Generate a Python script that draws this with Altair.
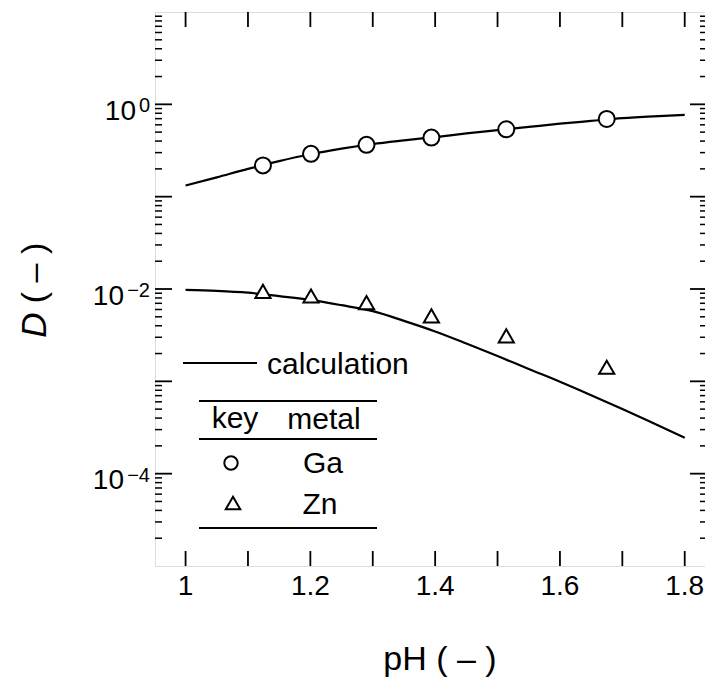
import altair as alt
import pandas as pd

# ---------------- data ----------------
meas_ph = [1.124, 1.201, 1.290, 1.394, 1.514, 1.675]
ga_d = [0.218, 0.291, 0.364, 0.436, 0.537, 0.694]
zn_d = [0.00944, 0.00841, 0.00713, 0.00511, 0.00311, 0.00142]

calc_ph = [1.00, 1.05, 1.10, 1.15, 1.20, 1.25, 1.30, 1.35, 1.40,
           1.45, 1.50, 1.55, 1.60, 1.65, 1.70, 1.75, 1.80]
calc_ga = [0.132, 0.162, 0.200, 0.243, 0.288, 0.331, 0.372, 0.407, 0.442,
           0.484, 0.525, 0.569, 0.617, 0.661, 0.708, 0.741, 0.767]
calc_zn = [0.00977, 0.00955, 0.00912, 0.00836, 0.00762, 0.00668, 0.00575,
           0.00452, 0.00347, 0.00257, 0.00188, 0.00136, 0.00099, 0.000708,
           0.000501, 0.000351, 0.000245]

# axis ticks / labels
x_ticks = [1.0, 1.1, 1.2, 1.3, 1.4, 1.5, 1.6, 1.7, 1.8]
x_label_vals = [1.0, 1.2, 1.4, 1.6, 1.8]
x_label_text = ["1", "1.2", "1.4", "1.6", "1.8"]
y_major = [1e-4, 1e-3, 1e-2, 1e-1, 1e0]
y_minor = [k * 10.0 ** d for d in range(-5, 1) for k in range(2, 10)]
y_label_vals = [1.0, 1e-2, 1e-4]
y_label_exp = ["0", "\u22122", "\u22124"]

# ---------------- layout ----------------
W, H = 550, 554
FONT = "Liberation Sans"

xs = alt.Scale(domain=[0.951, 1.8325], nice=False, zero=False)
ys = alt.Scale(type="log", domain=[1e-5, 10], nice=False)

meas = pd.DataFrame({"ph": meas_ph, "ga": ga_d, "zn": zn_d})
calc = pd.DataFrame({"ph": calc_ph, "ga": calc_ga, "zn": calc_zn})
one = alt.Data(values=[{"a": 1}])

X = lambda f: alt.X(f, type="quantitative", scale=xs, axis=None)
Y = lambda f: alt.Y(f, type="quantitative", scale=ys, axis=None)

layers = []

# calculation curves
for col in ["ga", "zn"]:
    layers.append(alt.Chart(calc).mark_line(color="black", strokeWidth=2.2,
                                            interpolate="monotone")
                  .encode(x=X("ph"), y=Y(col)))

# measured points
layers.append(alt.Chart(meas).mark_point(shape="circle", filled=True, fill="white",
                                         stroke="black", strokeWidth=2, size=256,
                                         opacity=1, fillOpacity=1)
              .encode(x=X("ph"), y=Y("ga")))
layers.append(alt.Chart(meas).mark_point(shape="triangle-up", filled=True, fill="white",
                                         stroke="black", strokeWidth=2, size=230,
                                         opacity=1, fillOpacity=1)
              .encode(x=X("ph"), y=Y("zn")))

# ticks (inward)
xt = pd.DataFrame({"v": x_ticks})
layers.append(alt.Chart(xt).mark_rule(color="black", strokeWidth=1.8)
              .encode(x=X("v"), y=alt.value(H), y2=alt.value(H - 15)))
layers.append(alt.Chart(xt).mark_rule(color="black", strokeWidth=1.8)
              .encode(x=X("v"), y=alt.value(0), y2=alt.value(15)))
ymaj = pd.DataFrame({"v": y_major})
ymin = pd.DataFrame({"v": y_minor})
layers.append(alt.Chart(ymaj).mark_rule(color="black", strokeWidth=1.8)
              .encode(y=Y("v"), x=alt.value(0), x2=alt.value(17)))
layers.append(alt.Chart(ymin).mark_rule(color="black", strokeWidth=1.5)
              .encode(y=Y("v"), x=alt.value(0), x2=alt.value(7)))
layers.append(alt.Chart(ymaj).mark_rule(color="black", strokeWidth=1.8)
              .encode(y=Y("v"), x=alt.value(W), x2=alt.value(W - 15)))
layers.append(alt.Chart(ymin).mark_rule(color="black", strokeWidth=1.5)
              .encode(y=Y("v"), x=alt.value(W), x2=alt.value(W - 5)))

# x tick labels
xl = pd.DataFrame({"v": x_label_vals, "t": x_label_text})
layers.append(alt.Chart(xl).mark_text(font=FONT, fontSize=28, align="center",
                                      baseline="alphabetic", color="black")
              .encode(x=X("v"), y=alt.value(H + 29), text="t:N"))

# y tick labels: base "10" and superscript exponent
yl = pd.DataFrame({"v": y_label_vals, "e": y_label_exp})
layers.append(alt.Chart(yl).mark_text(font=FONT, fontSize=20, align="right",
                                      baseline="alphabetic", dy=8, color="black")
              .encode(y=Y("v"), x=alt.value(-5), text="e:N"))
layers.append(alt.Chart(yl).transform_filter("length(datum.e) == 1")
              .mark_text(font=FONT, fontSize=28, align="right", baseline="alphabetic",
                         dy=15.5, color="black", text="10")
              .encode(y=Y("v"), x=alt.value(-19)))
layers.append(alt.Chart(yl).transform_filter("length(datum.e) > 1")
              .mark_text(font=FONT, fontSize=28, align="right", baseline="alphabetic",
                         dy=15.5, color="black", text="10")
              .encode(y=Y("v"), x=alt.value(-31)))

# axis titles
layers.append(alt.Chart(one).mark_text(font=FONT, fontSize=34, align="center",
                                       baseline="alphabetic", color="black",
                                       text="pH ( \u2013 )")
              .encode(x=alt.value(285), y=alt.value(H + 104)))
layers.append(alt.Chart(one).mark_text(font=FONT, fontSize=35, fontStyle="italic",
                                       align="center", baseline="middle", angle=270,
                                       color="black", text="D")
              .encode(x=alt.value(-120), y=alt.value(313)))
layers.append(alt.Chart(one).mark_text(font=FONT, fontSize=34, align="center",
                                       baseline="middle", angle=270, color="black",
                                       text="( \u2013 )")
              .encode(x=alt.value(-120), y=alt.value(261)))

# in-plot legend
layers.append(alt.Chart(one).mark_rule(color="black", strokeWidth=2)
              .encode(x=alt.value(28), x2=alt.value(102), y=alt.value(351)))
layers.append(alt.Chart(one).mark_text(font=FONT, fontSize=30, align="left",
                                       baseline="alphabetic", color="black",
                                       text="calculation")
              .encode(x=alt.value(112), y=alt.value(362)))
for yy in [389, 427, 516]:
    layers.append(alt.Chart(one).mark_rule(color="black", strokeWidth=2)
                  .encode(x=alt.value(44), x2=alt.value(222), y=alt.value(yy)))
for txt, xx, yy in [("key", 80, 416), ("metal", 169, 417), ("Ga", 168, 461), ("Zn", 165, 502)]:
    layers.append(alt.Chart(one).mark_text(font=FONT, fontSize=30, align="center",
                                           baseline="alphabetic", color="black", text=txt)
                  .encode(x=alt.value(xx), y=alt.value(yy)))
layers.append(alt.Chart(one).mark_point(shape="circle", filled=False, stroke="black",
                                        strokeWidth=2, size=180, opacity=1)
              .encode(x=alt.value(76), y=alt.value(451)))
layers.append(alt.Chart(one).mark_point(shape="triangle-up", filled=False, stroke="black",
                                        strokeWidth=2, size=210, opacity=1)
              .encode(x=alt.value(78), y=alt.value(491)))

chart = alt.layer(*layers).properties(
    width=W, height=H,
    autosize=alt.AutoSizeParams(type="none"),
    padding={"left": 155, "top": 12, "right": 0, "bottom": 114},
).configure_view(stroke="black", strokeWidth=2).configure(background="white")

chart.save("out.html", embed_options={"renderer": "svg", "actions": False})
